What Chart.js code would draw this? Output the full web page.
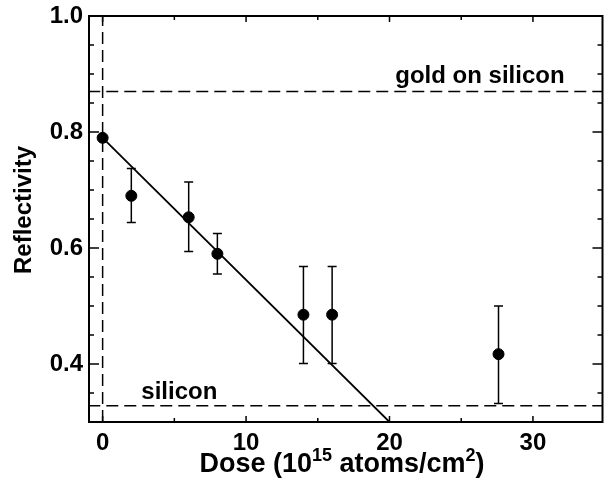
<!DOCTYPE html>
<html>
<head>
<meta charset="utf-8">
<script src="https://cdn.jsdelivr.net/npm/chart.js@4/dist/chart.umd.min.js"></script>
<style>
  body { margin: 0; background: #fff; }
</style>
</head>
<body>
<canvas id="reflChart" width="604" height="479"></canvas>
<script>
// measured points (dose in 1e15 atoms/cm2, reflectivity)
const doseX = [0, 2, 6, 8, 14, 16, 27.6];
const reflY = [0.79, 0.69, 0.653, 0.59, 0.485, 0.485, 0.417];
const errLow = [0.79, 0.644, 0.594, 0.555, 0.401, 0.401, 0.332];
const errHigh = [0.79, 0.737, 0.714, 0.625, 0.568, 0.568, 0.50];
// straight line fit
const fitX = [0, 20];
const fitY = [0.79, 0.30];
// reference levels
const goldLevel = 0.87;
const siliconLevel = 0.328;
const xTicks = [0, 10, 20, 30];
const yTicks = [0.4, 0.6, 0.8, 1.0];

const FONT = '"Liberation Sans", Arial, Helvetica, sans-serif';
const dash = [12, 6];

// error bars, frame, inward ticks, labels and titles
const extras = {
  id: 'extras',
  beforeDatasetsDraw(chart) {
    const ctx = chart.ctx;
    const xs = chart.scales.x, ys = chart.scales.y;
    ctx.save();
    ctx.strokeStyle = '#000';
    ctx.lineWidth = 1.5;
    for (let i = 0; i < doseX.length; i++) {
      if (errHigh[i] === errLow[i]) continue;
      const px = xs.getPixelForValue(doseX[i]);
      const top = ys.getPixelForValue(errHigh[i]);
      const bot = ys.getPixelForValue(errLow[i]);
      ctx.beginPath();
      ctx.moveTo(px, top); ctx.lineTo(px, bot);
      ctx.moveTo(px - 4.5, top); ctx.lineTo(px + 4.5, top);
      ctx.moveTo(px - 4.5, bot); ctx.lineTo(px + 4.5, bot);
      ctx.stroke();
    }
    ctx.restore();
  },
  afterDraw(chart) {
    const ctx = chart.ctx;
    const xs = chart.scales.x, ys = chart.scales.y;
    const a = chart.chartArea;
    ctx.save();
    ctx.strokeStyle = '#000';
    ctx.lineWidth = 2;
    ctx.beginPath();
    ctx.rect(a.left, a.top, a.right - a.left, a.bottom - a.top);
    ctx.stroke();

    ctx.lineWidth = 1.5;
    ctx.beginPath();
    for (let v = 0; v <= 35; v += 5) {
      const px = xs.getPixelForValue(v);
      if (px > a.right) continue;
      const len = v % 10 === 0 ? 6 : 4;
      ctx.moveTo(px, a.bottom); ctx.lineTo(px, a.bottom - len);
      ctx.moveTo(px, a.top); ctx.lineTo(px, a.top + len);
    }
    for (let k = 6; k <= 20; k++) {
      const py = ys.getPixelForValue(k * 0.05);
      const len = k % 4 === 0 ? 10 : 5;
      ctx.moveTo(a.left, py); ctx.lineTo(a.left + len, py);
      ctx.moveTo(a.right, py); ctx.lineTo(a.right - len, py);
    }
    ctx.stroke();

    ctx.fillStyle = '#000';
    ctx.font = 'bold 24px ' + FONT;
    ctx.textAlign = 'left';
    ctx.textBaseline = 'alphabetic';
    ctx.fillText('gold on silicon', xs.getPixelForValue(20.4), ys.getPixelForValue(goldLevel) - 8);
    ctx.fillText('silicon', xs.getPixelForValue(2.7), ys.getPixelForValue(siliconLevel) - 7);

    // y title
    ctx.save();
    ctx.font = 'bold 24px ' + FONT;
    ctx.translate(31, 210);
    ctx.rotate(-Math.PI / 2);
    ctx.textAlign = 'center';
    ctx.fillText('Reflectivity', 0, 0);
    ctx.restore();

    // x title with superscripts
    const parts = [
      ['Dose (10', 27, 0], ['15', 18, -11], [' atoms/cm', 27, 0], ['2', 18, -11], [')', 27, 0]
    ];
    let w = 0;
    parts.forEach(p => { ctx.font = 'bold ' + p[1] + 'px ' + FONT; w += ctx.measureText(p[0]).width; });
    let x = 342 - w / 2;
    const base = 472;
    ctx.textAlign = 'left';
    parts.forEach(p => {
      ctx.font = 'bold ' + p[1] + 'px ' + FONT;
      ctx.fillText(p[0], x, base + p[2]);
      x += ctx.measureText(p[0]).width;
    });
    ctx.restore();
  }
};

const pointData = doseX.map((d, i) => ({ x: d, y: reflY[i] }));
const fitData = fitX.map((d, i) => ({ x: d, y: fitY[i] }));

const noPad = s => { s.paddingLeft = 0; s.paddingRight = 0; s.paddingTop = 0; s.paddingBottom = 0; };

new Chart(document.getElementById('reflChart'), {
  type: 'scatter',
  data: {
    datasets: [
      {
        label: 'gold on silicon',
        data: [{ x: -1, y: goldLevel }, { x: 35, y: goldLevel }],
        showLine: true, borderColor: '#000', borderWidth: 1.5, borderDash: dash,
        pointRadius: 0
      },
      {
        label: 'silicon',
        data: [{ x: -1, y: siliconLevel }, { x: 35, y: siliconLevel }],
        showLine: true, borderColor: '#000', borderWidth: 1.5, borderDash: dash,
        pointRadius: 0
      },
      {
        label: 'zero dose',
        data: [{ x: 0, y: 0.3 }, { x: 0, y: 1.0 }],
        showLine: true, borderColor: '#000', borderWidth: 1.5, borderDash: dash,
        pointRadius: 0
      },
      {
        label: 'fit',
        data: fitData,
        showLine: true, borderColor: '#000', borderWidth: 1.8,
        pointRadius: 0
      },
      {
        label: 'Reflectivity',
        data: pointData,
        backgroundColor: '#000', borderColor: '#000',
        pointRadius: 5.5
      }
    ]
  },
  options: {
    responsive: false,
    animation: false,
    layout: { autoPadding: false, padding: { top: 16, right: 1.5, left: 0, bottom: 0 } },
    plugins: { legend: { display: false }, tooltip: { enabled: false } },
    scales: {
      x: {
        type: 'linear', min: -0.95, max: 34.85,
        grid: { display: false, drawTicks: false },
        border: { display: false },
        afterBuildTicks: s => { s.ticks = xTicks.map(v => ({ value: v })); },
        afterFit: s => { s.height = 57; noPad(s); },
        ticks: { color: '#000', padding: 7, font: { family: FONT, size: 24, weight: 'bold' } }
      },
      y: {
        type: 'linear', min: 0.3, max: 1.0,
        grid: { display: false, drawTicks: false },
        border: { display: false },
        afterBuildTicks: s => { s.ticks = yTicks.map(v => ({ value: v })); },
        afterFit: s => { s.width = 89; noPad(s); },
        ticks: {
          color: '#000', padding: 6, font: { family: FONT, size: 24, weight: 'bold' },
          callback: v => v.toFixed(1)
        }
      }
    }
  },
  plugins: [extras]
});
</script>
</body>
</html>
